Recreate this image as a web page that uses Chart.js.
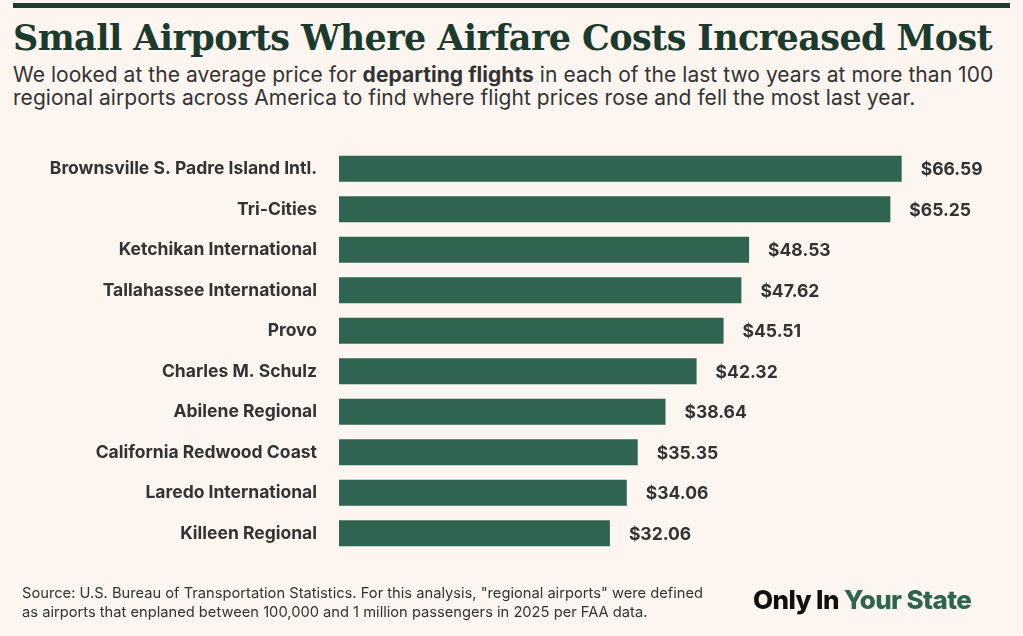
<!DOCTYPE html>
<html><head><meta charset="utf-8">
<script src="https://cdn.jsdelivr.net/npm/chart.js@4/dist/chart.umd.min.js"></script>
<style>
html,body{margin:0;padding:0;background:#fdf6f0;width:1023px;height:636px;overflow:hidden;}
#rule{position:absolute;left:13px;top:3px;width:997px;height:5px;background:#1c3a2e;}
#title{position:absolute;left:13px;top:17px;font-family:"DejaVu Serif";font-weight:bold;font-size:35px;color:#1c3a2e;white-space:nowrap;letter-spacing:-0.6px;}
#sub{position:absolute;left:13px;top:63px;font-family:Inter;font-size:21px;line-height:23px;color:#333;letter-spacing:0.05px;white-space:nowrap;}
#sub b{font-weight:700;}
#foot{position:absolute;left:22px;top:584px;font-family:Inter;font-size:14.7px;line-height:19px;color:#333;white-space:nowrap;}
#logo{position:absolute;left:753px;top:584px;font-family:Inter;font-weight:800;font-size:26px;letter-spacing:-0.6px;white-space:nowrap;}
#logo .a{color:#111;} #logo .b{color:#2f6550;}
#wrap{position:absolute;left:0;top:116px;width:1023px;height:470px;}
</style></head><body>
<div id="rule"></div>
<div id="title">Small Airports Where Airfare Costs Increased Most</div>
<div id="sub">We looked at the average price for <b>departing flights</b> in each of the last two years at more than 100<br>regional airports across America to find where flight prices rose and fell the most last year.</div>
<div id="wrap"><canvas id="c" width="1023" height="470"></canvas></div>
<div id="foot">Source: U.S. Bureau of Transportation Statistics. For this analysis, "regional airports" were defined<br>as airports that enplaned between 100,000 and 1 million passengers in 2025 per FAA data.</div>
<div id="logo"><span class="a">Only In</span> <span class="b">Your State</span></div>
<script>
const airports = ["Brownsville S. Padre Island Intl.","Tri-Cities","Ketchikan International","Tallahassee International","Provo","Charles M. Schulz","Abilene Regional","California Redwood Coast","Laredo International","Killeen Regional"];
const increases = [66.59,65.25,48.53,47.62,45.51,42.32,38.64,35.35,34.06,32.06];

const valueLabels = {
  id:'valueLabels',
  afterDatasetsDraw(chart){
    const ctx=chart.ctx;
    const meta=chart.getDatasetMeta(0);
    ctx.save();
    ctx.font='bold 17.5px Inter';
    ctx.fillStyle='#333';
    ctx.textBaseline='middle';
    ctx.textAlign='left';
    meta.data.forEach((bar,i)=>{
      ctx.fillText('$'+increases[i].toFixed(2), bar.x+19, bar.y+1);
    });
    ctx.restore();
  }
};

new Chart(document.getElementById('c'),{
  type:'bar',
  data:{labels:airports,datasets:[{data:increases,backgroundColor:'#2f6550',barPercentage:0.64,categoryPercentage:1}]},
  options:{
    indexAxis:'y',responsive:false,animation:false,
    layout:{padding:{top:8,bottom:8,left:0,right:8}},
    plugins:{legend:{display:false},tooltip:{enabled:false}},
    scales:{
      x:{display:false,min:0,max:80},
      y:{
        grid:{display:false,drawTicks:false},border:{display:false},
        ticks:{padding:22,color:'#333',font:{family:'Inter',weight:'bold',size:17.5}},
        afterFit(s){s.width=339;}
      }
    }
  },
  plugins:[valueLabels]
});
</script>
</body></html>
